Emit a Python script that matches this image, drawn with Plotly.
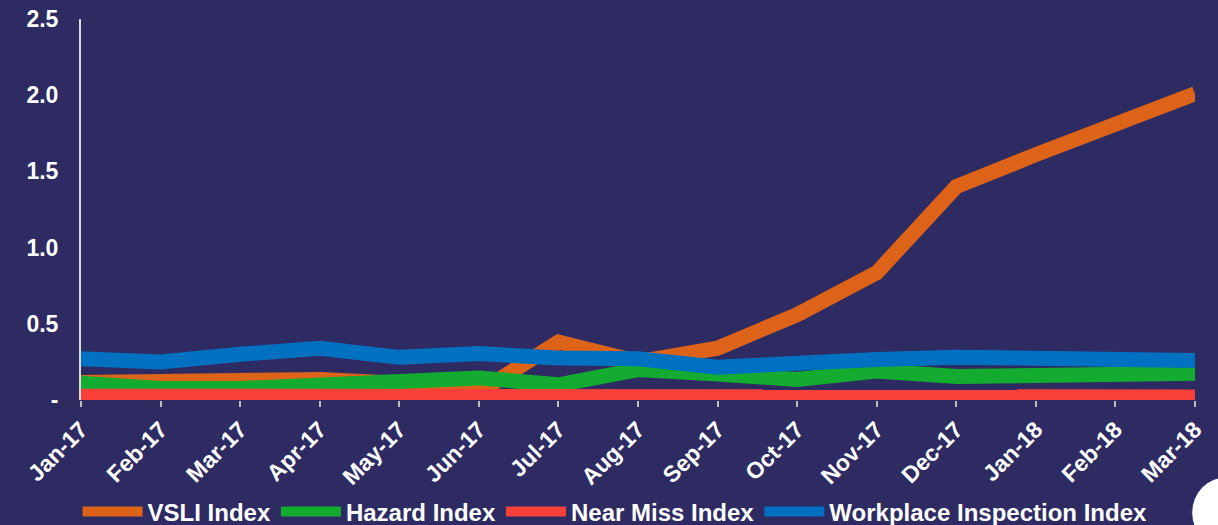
import plotly.graph_objects as go

months = ["Jan-17", "Feb-17", "Mar-17", "Apr-17", "May-17", "Jun-17", "Jul-17",
          "Aug-17", "Sep-17", "Oct-17", "Nov-17", "Dec-17", "Jan-18", "Feb-18", "Mar-18"]

vsli = [0.115, 0.115, 0.135, 0.135, 0.11, 0.05, 0.38, 0.25, 0.34, 0.56, 0.835, 1.40, 1.61, 1.81, 2.01]
hazard = [0.11, 0.075, 0.075, 0.10, 0.125, 0.145, 0.10, 0.20, 0.17, 0.135, 0.19, 0.155, 0.16, 0.17, 0.175]
near_miss = [0.025, 0.025, 0.025, 0.02, 0.025, 0.025, 0.02, 0.025, 0.02, 0.035, 0.025, 0.025, 0.025, 0.02, 0.02]
workplace = [0.27, 0.25, 0.30, 0.34, 0.28, 0.305, 0.275, 0.27, 0.215, 0.25, 0.265, 0.28, 0.27, 0.265, 0.26]

y_ticks = [0, 0.5, 1.0, 1.5, 2.0, 2.5]
y_labels = ["-", "0.5", "1.0", "1.5", "2.0", "2.5"]

BG = "#2D2B62"
FONT = "Liberation Sans, Arial, sans-serif"

fig = go.Figure()
for name, vals, color in [("VSLI Index", vsli, "#DD6319"),
                          ("Hazard Index", hazard, "#13AC30"),
                          ("Near Miss Index", near_miss, "#F8403B"),
                          ("Workplace Inspection Index", workplace, "#0070C1")]:
    fig.add_trace(go.Scatter(x=months, y=vals, name=name, mode="lines",
                             line=dict(color=color, width=15)))

fig.update_layout(
    width=1218, height=525,
    paper_bgcolor=BG, plot_bgcolor=BG,
    margin=dict(l=81, r=23, t=19, b=125, autoexpand=False),
    font=dict(family=FONT, color="white", size=23),
    showlegend=True,
    legend=dict(orientation="h", xref="container", yref="container",
                x=0.505, xanchor="center", y=0.025, yanchor="middle",
                font=dict(size=24, family=FONT, weight="bold"),
                itemwidth=60, bgcolor="rgba(0,0,0,0)"),
    shapes=[dict(type="circle", xref="paper", yref="paper",
                 x0=0.997, x1=1.060, y0=-0.39, y1=-0.2015,
                 fillcolor="white", line=dict(color="#1E2A6E", width=1))],
)
fig.update_xaxes(type="category", range=[0, 14], showgrid=False, showline=False,
                 ticks="outside", ticklen=6, tickwidth=2, tickcolor="#BFBFBF",
                 tickangle=-45, automargin=False,
                 tickfont=dict(size=23, family=FONT, weight="bold", color="white"),
                 zeroline=False)
fig.update_yaxes(range=[0, 2.5], tickvals=y_ticks, ticktext=y_labels, showgrid=False,
                 showline=True, linecolor="#D9D9D9", linewidth=2, zeroline=False,
                 ticks="", ticklabelstandoff=16, automargin=False,
                 tickfont=dict(size=23, family=FONT, weight="bold", color="white"))

# drop the default 8px body margin so the chart fills the window
fig.write_html("out.html", config={"displayModeBar": False},
               post_script="document.body.style.margin='0';"
                           "document.body.style.background='#2D2B62';")
